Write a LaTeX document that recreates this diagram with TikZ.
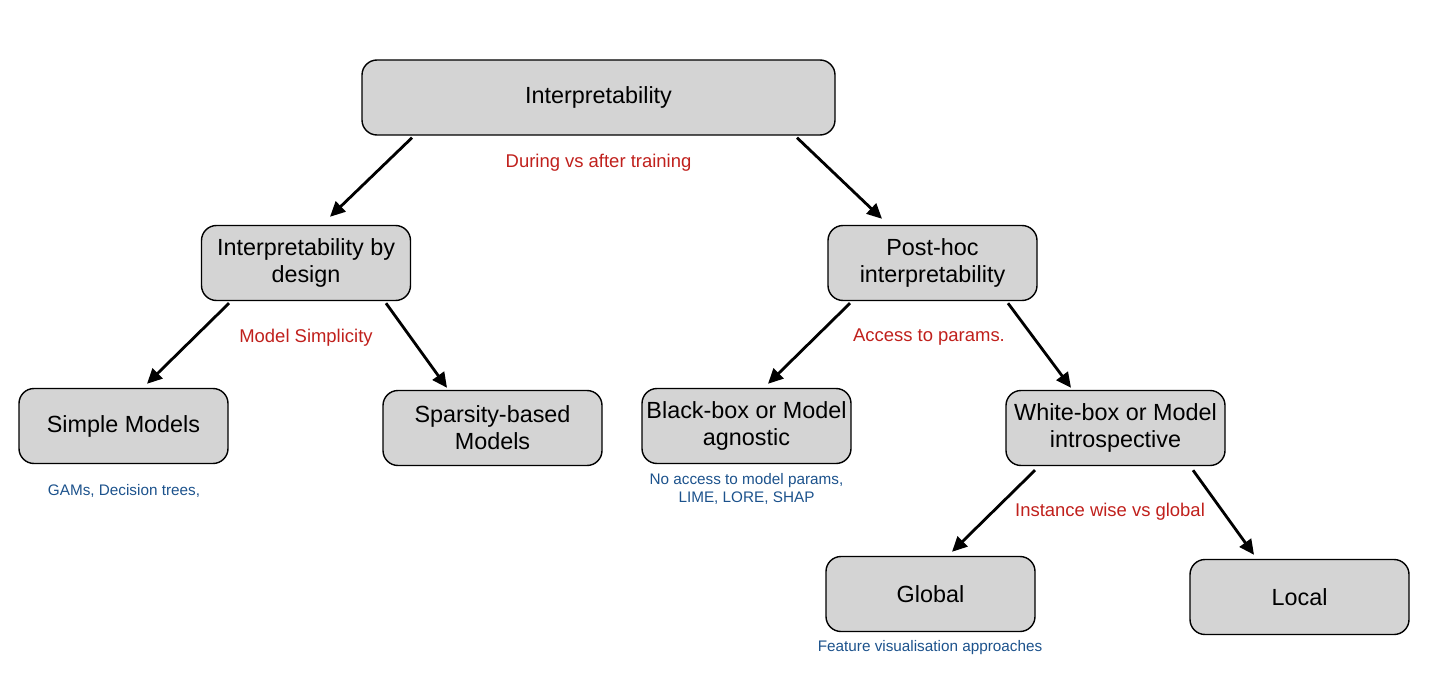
\documentclass[tikz,border=0pt]{standalone}
\usepackage{fontspec}
\setmainfont{Liberation Sans}
\usetikzlibrary{arrows.meta}
\definecolor{boxgray}{RGB}{212,212,212}
\definecolor{edgered}{RGB}{192,32,28}
\definecolor{noteblue}{RGB}{28,82,140}
\tikzset{
  >={Triangle[length=3mm,width=2.8mm]},
  box/.style={rectangle,rounded corners=0.3cm,draw,fill=boxgray,line width=0.8pt,align=center,
    minimum width=4.18cm,minimum height=1.5cm,inner sep=2pt,font=\fontsize{13.3}{15.5}\selectfont},
  edge/.style={->,line width=1.6pt},
  crit/.style={text=edgered,font=\fontsize{10.5}{12.5}\selectfont,inner sep=1pt},
  note/.style={text=noteblue,font=\fontsize{8.7}{10.3}\selectfont,align=center,inner sep=1pt},
}
\begin{document}
\begin{tikzpicture}
\useasboundingbox (0,0) rectangle (28.7,-13.8);
\node[box,minimum width=9.46cm] (interp) at (11.97,-1.95){Interpretability};
\node[box] (design) at (6.12,-5.26){Interpretability by\\design};
\node[box] (posthoc) at (18.65,-5.26){Post-hoc\\interpretability};
\node[box] (simple) at (2.47,-8.52){Simple Models};
\node[box,minimum width=4.38cm] (sparse) at (9.85,-8.56){Sparsity-based\\Models};
\node[box] (blackbox) at (14.93,-8.52){Black-box or Model\\agnostic};
\node[box,minimum width=4.38cm] (whitebox) at (22.31,-8.56){White-box or Model\\introspective};
\node[box] (global) at (18.61,-11.88){Global};
\node[box,minimum width=4.38cm] (local) at (25.99,-11.94){Local};
% criteria on the splits
\node[crit] (c1) at (11.97,-3.25){During vs after training};
\node[crit] (c2) at (6.12,-6.75){Model Simplicity};
\node[crit] (c3) at (18.58,-6.75){Access to params.};
\node[crit] (c4) at (22.2,-10.23){Instance wise vs global};
% examples under the leaves
\node[note] (n1) at (2.48,-9.82){GAMs, Decision trees,};
\node[note] (n2) at (14.93,-9.78){No access to model params,\\LIME, LORE, SHAP};
\node[note] (n3) at (18.6,-12.96){Feature visualisation approaches};
\draw[edge] ([xshift=-3.73cm,yshift=-0.04cm]interp.south) -- ([xshift=0.48cm,yshift=0.16cm]design.north);
\draw[edge] ([xshift=3.97cm,yshift=-0.04cm]interp.south) -- ([xshift=-1.01cm,yshift=0.12cm]posthoc.north);
\draw[edge] ([xshift=-1.54cm,yshift=-0.04cm]design.south) -- ([xshift=0.47cm,yshift=0.08cm]simple.north);
\draw[edge] ([xshift=1.6cm,yshift=-0.04cm]design.south) -- ([xshift=-0.91cm,yshift=0.04cm]sparse.north);
\draw[edge] ([xshift=-1.65cm,yshift=-0.04cm]posthoc.south) -- ([xshift=0.43cm,yshift=0.08cm]blackbox.north);
\draw[edge] ([xshift=1.51cm,yshift=-0.04cm]posthoc.south) -- ([xshift=-0.89cm,yshift=0.04cm]whitebox.north);
\draw[edge] ([xshift=-1.61cm,yshift=-0.08cm]whitebox.south) -- ([xshift=0.43cm,yshift=0.08cm]global.north);
\draw[edge] ([xshift=1.55cm,yshift=-0.08cm]whitebox.south) -- ([xshift=-0.91cm,yshift=0.08cm]local.north);
\end{tikzpicture}
\end{document}
